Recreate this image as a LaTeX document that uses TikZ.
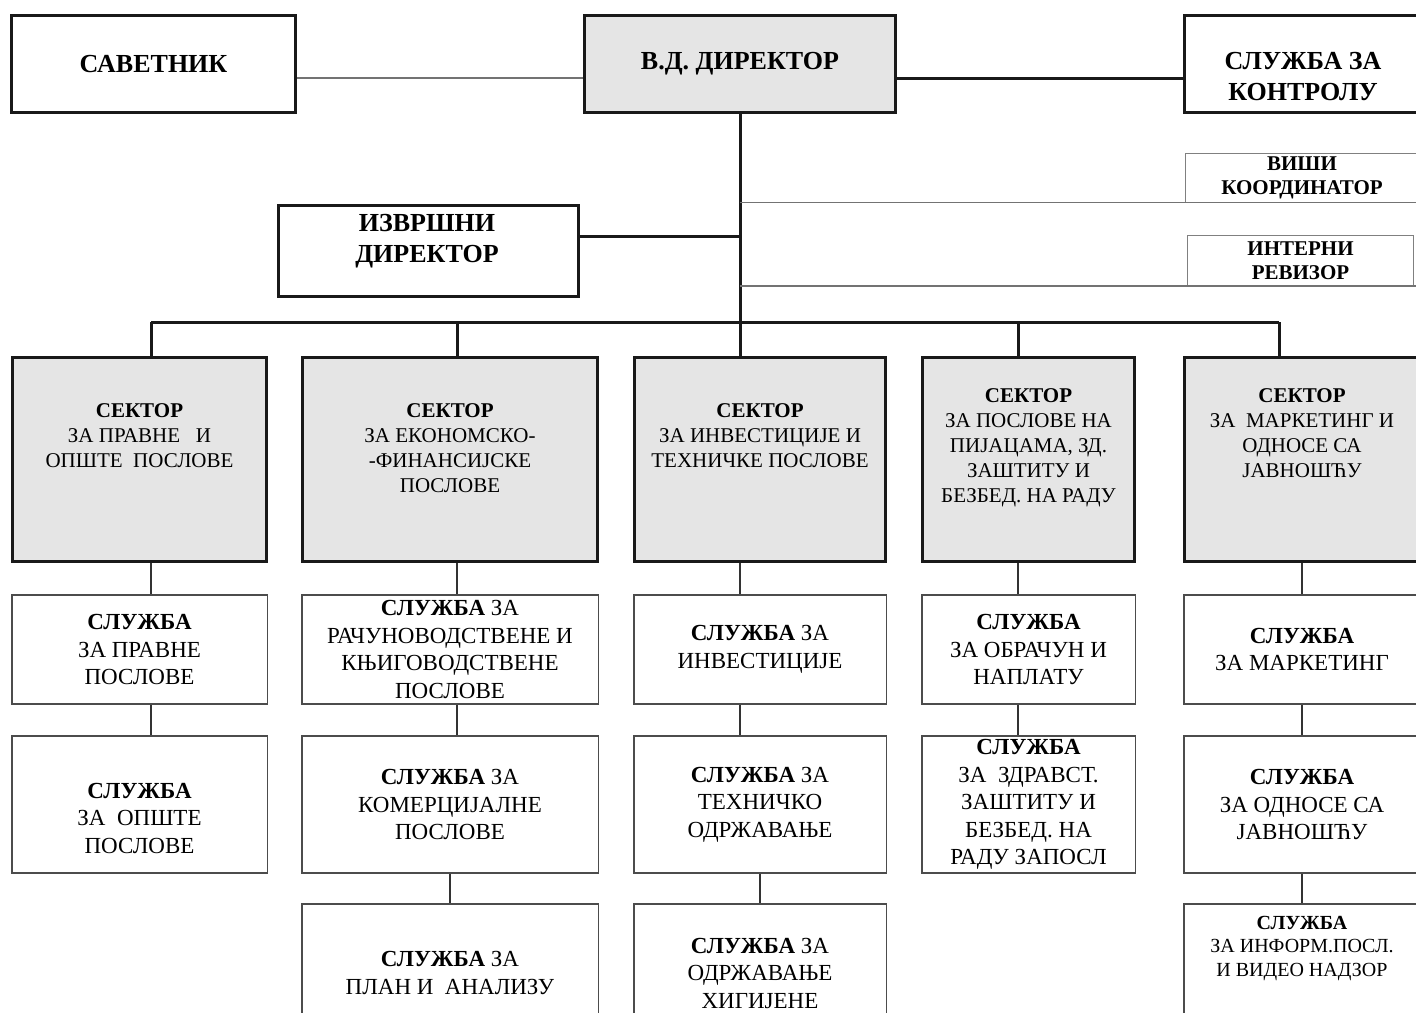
\documentclass[tikz,border=0pt]{standalone}
\usepackage{fontspec}
\setmainfont{Liberation Serif}
\definecolor{boxgray}{RGB}{229,229,229}
\begin{document}
\begin{tikzpicture}[x=1pt,y=-1pt,
  head/.style={draw=black!90,line width=3pt,inner sep=0pt,align=center,font=\bfseries\fontsize{26}{31}\selectfont},
  aide/.style={draw=black!50,line width=1pt,inner sep=0pt,align=center,font=\bfseries\fontsize{21}{24}\selectfont},
  sector/.style={draw=black!90,line width=3pt,fill=boxgray,minimum height=204pt},
  secttext/.style={anchor=north,inner sep=0pt,align=center,font=\fontsize{21}{25}\selectfont},
  office/.style={draw=black!70,line width=1.5pt,inner sep=0pt,align=center,font=\fontsize{23}{27.5}\selectfont},
  rowa/.style={office,minimum height=109pt},
  rowb/.style={office,minimum height=137pt},
  rowc/.style={office,minimum height=138pt},
  bus/.style={line width=3pt,black!90},
  link/.style={line width=1.5pt,black!80},
  faint/.style={line width=1.5pt,black!55}]
\path[use as bounding box] (0,0) rectangle (1416,1012);
\clip (0,0) rectangle (1416,1012);

% top of the chart
\node[head,minimum width=284pt,minimum height=97pt] (sav) at (153.5,64) {САВЕТНИК};
\node[head,fill=boxgray,minimum width=311pt,minimum height=97pt] (vd) at (740,64) {В.Д. ДИРЕКТОР};
\node[head,minimum width=237pt,minimum height=97pt] (kon) at (1303,64) {};
\node[head,draw=none] (kont) at (1303,77) {СЛУЖБА ЗА\\КОНТРОЛУ};
\node[head,minimum width=300pt,minimum height=91pt] (izv) at (428.5,251) {};
\node[head,draw=none] (izvt) at (427,241) {ИЗВРШНИ\\ДИРЕКТОР};
\node[aide,minimum width=233pt,minimum height=49pt] (visi) at (1302,177.5) {ВИШИ\\КООРДИНАТОР};
\node[aide,minimum width=226pt,minimum height=50pt] (int) at (1300.5,260.5) {ИНТЕРНИ\\РЕВИЗОР};

\draw[faint] ([yshift=-14pt]sav.east) -- ([yshift=-14pt]vd.west);
\draw[bus] ([yshift=-14pt]vd.east) -- ([yshift=-14pt]kon.west);

\coordinate (b1) at (151,322);
\coordinate (b2) at (457,322);
\coordinate (b3) at (740,322);
\coordinate (b4) at (1018,322);
\coordinate (b5) at (1279,322);
\coordinate (iz) at ([yshift=15pt]izv.east);
\draw[bus] (vd.south) -- (b3);
\draw[bus] (b1) -- (b5);
\draw[bus] (iz) -- (iz -| vd.south);
\draw[faint] (visi.south -| vd.south) -- (visi.south east);
\draw[faint] (int.south -| vd.south) -- ([xshift=8pt]int.south east);

% sectors
\node[sector,minimum width=254pt] (s1) at (139.5,459.5) {};
\node[sector,minimum width=295pt] (s2) at (450,459.5) {};
\node[sector,minimum width=251pt] (s3) at (760,459.5) {};
\node[sector,minimum width=212pt] (s4) at (1028.5,459.5) {};
\node[sector,minimum width=235pt] (s5) at (1302,459.5) {};
\foreach \i in {1,...,5}
  \draw[bus] (b\i) -- (b\i |- s\i.north);

\node[secttext] (t1) at (139.5,403) {\textbf{СЕКТОР}\\ЗА ПРАВНЕ \ \ И\\ОПШТЕ \ ПОСЛОВЕ};
\node[secttext] (t2) at (450,403) {\textbf{СЕКТОР}\\ЗА ЕКОНОМСКО-\\-ФИНАНСИЈСКЕ\\ПОСЛОВЕ};
\node[secttext] (t3) at (760,403) {\textbf{СЕКТОР}\\ЗА ИНВЕСТИЦИЈЕ И\\ТЕХНИЧКЕ ПОСЛОВЕ};
\node[secttext] (t4) at (1028.5,388) {\textbf{СЕКТОР}\\ЗА ПОСЛОВЕ НА\\ПИЈАЦАМА, ЗД.\\ЗАШТИТУ И\\БЕЗБЕД. НА РАДУ};
\node[secttext] (t5) at (1302,388) {\textbf{СЕКТОР}\\ЗА \ МАРКЕТИНГ И\\ОДНОСЕ СА\\ЈАВНОШЋУ};

% services
\node[rowa,minimum width=255.5pt] (a11) at (139.5,649.5) {\textbf{СЛУЖБА}\\ЗА ПРАВНЕ\\ПОСЛОВЕ};
\node[rowb,minimum width=255.5pt] (a12) at (139.5,804.5) {};
\node[office,draw=none] (a12t) at (139.5,818) {\textbf{СЛУЖБА}\\ЗА \ ОПШТЕ\\ПОСЛОВЕ};

\node[rowa,minimum width=296.5pt] (a21) at (450,649.5) {\textbf{СЛУЖБА} ЗА\\РАЧУНОВОДСТВЕНЕ И\\КЊИГОВОДСТВЕНЕ\\ПОСЛОВЕ};
\node[rowb,minimum width=296.5pt] (a22) at (450,804.5) {\textbf{СЛУЖБА} ЗА\\КОМЕРЦИЈАЛНЕ\\ПОСЛОВЕ};
\node[rowc,minimum width=296.5pt] (a23) at (450,973) {\textbf{СЛУЖБА} ЗА\\ПЛАН И \ АНАЛИЗУ};

\node[rowa,minimum width=252.5pt] (a31) at (760,649.5) {\textbf{СЛУЖБА} ЗА\\ИНВЕСТИЦИЈЕ};
\node[rowb,minimum width=252.5pt] (a32) at (760,804.5) {\textbf{СЛУЖБА} ЗА\\ТЕХНИЧКО\\ОДРЖАВАЊЕ};
\node[rowc,minimum width=252.5pt] (a33) at (760,973) {\textbf{СЛУЖБА} ЗА\\ОДРЖАВАЊЕ\\ХИГИЈЕНЕ};

\node[rowa,minimum width=213.5pt] (a41) at (1028.5,649.5) {\textbf{СЛУЖБА}\\ЗА ОБРАЧУН И\\НАПЛАТУ};
\node[rowb,minimum width=213.5pt] (a42) at (1028.5,804.5) {\textbf{СЛУЖБА}\\ЗА \ ЗДРАВСТ.\\ЗАШТИТУ И\\БЕЗБЕД. НА\\РАДУ ЗАПОСЛ};

\node[rowa,minimum width=236.5pt] (a51) at (1302,649.5) {\textbf{СЛУЖБА}\\ЗА МАРКЕТИНГ};
\node[rowb,minimum width=236.5pt] (a52) at (1302,804.5) {\textbf{СЛУЖБА}\\ЗА ОДНОСЕ СА\\ЈАВНОШЋУ};
\node[rowc,minimum width=236.5pt] (a53) at (1302,973) {};
\node[office,draw=none,font=\fontsize{20}{23.5}\selectfont] (a53t) at (1302,948) {\textbf{СЛУЖБА}\\ЗА ИНФОРМ.ПОСЛ.\\И ВИДЕО НАДЗОР};

\foreach \c in {1,2,3,4}
{\draw[link] (s\c.south -| b\c) -- (a\c1.north -| b\c);
 \draw[link] (a\c1.south -| b\c) -- (a\c2.north -| b\c);
}
\draw[link] (s5.south) -- (a51.north);
\draw[link] (a51.south) -- (a52.north);
\draw[link] (a52.south) -- (a53.north);
\draw[link] (a22.south) -- (a23.north);
\draw[link] (a32.south) -- (a33.north);

\end{tikzpicture}
\end{document}
